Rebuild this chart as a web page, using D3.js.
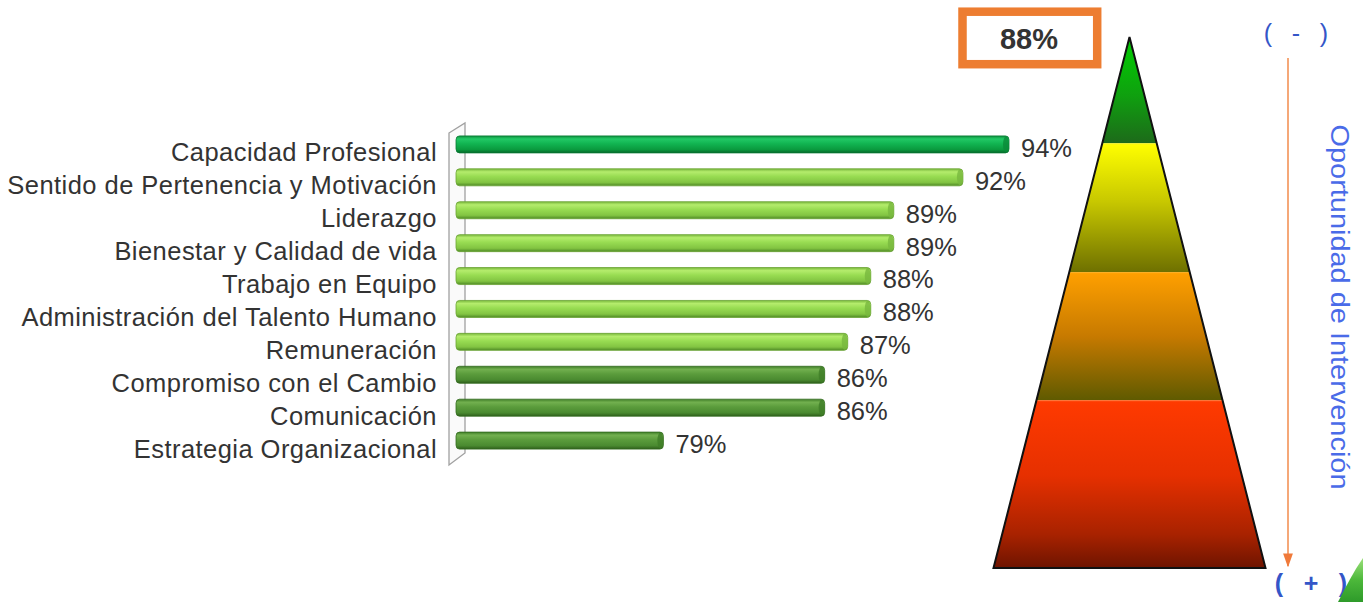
<!DOCTYPE html>
<html>
<head>
<meta charset="utf-8">
<script src="https://cdn.jsdelivr.net/npm/d3@7"></script>
<style>
  html, body { margin: 0; padding: 0; background: #ffffff; }
  svg { display: block; }
  text { font-family: "Liberation Sans", Arial, Helvetica, sans-serif; }
</style>
</head>
<body>
<svg id="chart" width="1363" height="602"></svg>
<script>
// ---- data ----
const categories = [
  "Capacidad Profesional",
  "Sentido de Pertenencia y Motivación",
  "Liderazgo",
  "Bienestar y Calidad de vida",
  "Trabajo en Equipo",
  "Administración del Talento Humano",
  "Remuneración",
  "Compromiso con el Cambio",
  "Comunicación",
  "Estrategia Organizacional"
];
const values = [94, 92, 89, 89, 88, 88, 87, 86, 86, 79];
const overall = 88;
const axisMin = 70;
const pyramidLevels = ["verde", "amarillo", "naranja", "rojo"];
const pyramidBreaks = [0, 0.2, 0.443, 0.684, 1];
const scaleTopSymbol = "-";
const scaleBottomSymbol = "+";
const scaleTitle = "Oportunidad de Intervención";

// ---- setup ----
const svg = d3.select("#chart");
const defs = svg.append("defs");

function vGrad(id, stops) {
  const g = defs.append("linearGradient").attr("id", id)
    .attr("x1", 0).attr("y1", 0).attr("x2", 0).attr("y2", 1);
  stops.forEach(s => g.append("stop").attr("offset", s[0]).attr("stop-color", s[1]));
}
vGrad("bar-top", [[0, "#0d8f3c"], [0.18, "#22c865"], [0.45, "#12b552"], [0.8, "#0a9a3e"], [1, "#06692a"]]);
vGrad("bar-mid", [[0, "#79b83c"], [0.18, "#b4ec6c"], [0.45, "#98dc52"], [0.8, "#82c442"], [1, "#4f8a26"]]);
vGrad("bar-low", [[0, "#3f7d27"], [0.18, "#72b04f"], [0.45, "#5b9c3c"], [0.8, "#4a8a30"], [1, "#2f5f1b"]]);

const tier = d3.scaleThreshold().domain([86.5, 93]).range(["low", "mid", "top"]);

const x = d3.scaleLinear().domain([axisMin, 94]).range([456, 1009]);
const y = d3.scaleBand().domain(categories).range([120, 465]).padding(0.483);

// ---- 3D axis wall ----
const wallTop = y.range()[0], wallBot = y.range()[1];
svg.append("path")
  .attr("d", `M449,${wallTop + 13} L465,${wallTop + 3} L465,${wallBot - 12} L449,${wallBot} Z`)
  .attr("fill", "#fafafa").attr("stroke", "#a0a0a0").attr("stroke-width", 1.3);

// ---- bars ----
const rows = categories.map((c, i) => ({ cat: c, val: values[i] }));
svg.append("g").selectAll("rect").data(rows).join("rect")
  .attr("x", x(axisMin))
  .attr("y", d => y(d.cat))
  .attr("width", d => x(d.val) - x(axisMin))
  .attr("height", y.bandwidth())
  .attr("rx", 3.5).attr("ry", 4)
  .attr("fill", d => `url(#bar-${tier(d.val)})`)
  .attr("stroke", d => tier(d.val) === "top" ? "#087a33" : (tier(d.val) === "mid" ? "#6aa334" : "#346c20"))
  .attr("stroke-width", 0.8);

// end caps
svg.append("g").selectAll("ellipse").data(rows).join("ellipse")
  .attr("cx", d => x(d.val) - 3)
  .attr("cy", d => y(d.cat) + y.bandwidth() / 2)
  .attr("rx", 3).attr("ry", y.bandwidth() / 2 - 0.5)
  .attr("fill", d => tier(d.val) === "top" ? "#0a8a38" : (tier(d.val) === "mid" ? "#78b83e" : "#3f7d27"))
  .attr("opacity", 0.8);

// category labels
svg.append("g").selectAll("text").data(rows).join("text")
  .attr("x", 437)
  .attr("y", d => y(d.cat) + y.bandwidth() / 2 + 8)
  .attr("dy", "0.35em")
  .attr("text-anchor", "end")
  .attr("font-size", 25.5)
  .attr("letter-spacing", 0.45)
  .attr("fill", "#333333")
  .text(d => d.cat);

// value labels
svg.append("g").selectAll("text").data(rows).join("text")
  .attr("x", d => x(d.val) + 12)
  .attr("y", d => y(d.cat) + y.bandwidth() / 2 + 3.5)
  .attr("dy", "0.35em")
  .attr("font-size", 25.5)
  .attr("fill", "#333333")
  .text(d => d.val + "%");

// ---- overall box ----
svg.append("rect")
  .attr("x", 962.5).attr("y", 11.7).attr("width", 134.7).attr("height", 52.5)
  .attr("fill", "#ffffff").attr("stroke", "#ed7d31").attr("stroke-width", 8.5);
svg.append("text")
  .attr("x", 1029).attr("y", 49)
  .attr("text-anchor", "middle")
  .attr("font-size", 29).attr("font-weight", "bold")
  .attr("fill", "#333333")
  .text(overall + "%");

// ---- pyramid ----
const apexX = 1129.5, halfBase = 136;
const py = d3.scaleLinear().domain([0, 1]).range([37, 568]);
const pyrColors = {
  verde: [[0, "#00d000"], [0.55, "#0fa00f"], [1, "#1d6a1a"]],
  amarillo: [[0, "#ffff00"], [0.45, "#c8c800"], [1, "#6e7000"]],
  naranja: [[0, "#ffa000"], [0.5, "#c77a00"], [1, "#5f5a00"]],
  rojo: [[0, "#ff3a00"], [0.45, "#e63000"], [0.8, "#a82200"], [1, "#6e1400"]]
};
pyramidLevels.forEach(l => vGrad("pyr-" + l, pyrColors[l]));

const pyrG = svg.append("g");
pyramidLevels.forEach((l, i) => {
  const t0 = pyramidBreaks[i], t1 = pyramidBreaks[i + 1];
  const y0 = py(t0), y1 = py(t1);
  const w0 = halfBase * t0, w1 = halfBase * t1;
  pyrG.append("path")
    .attr("d", `M${apexX - w0},${y0} L${apexX + w0},${y0} L${apexX + w1},${y1} L${apexX - w1},${y1} Z`)
    .attr("fill", `url(#pyr-${l})`);
  if (i > 0) {
    pyrG.append("line")
      .attr("x1", apexX - w0).attr("x2", apexX + w0).attr("y1", y0 + 0.5).attr("y2", y0 + 0.5)
      .attr("stroke", i === 3 ? "#ff8040" : (i === 2 ? "#ffb020" : "#e8e840")).attr("stroke-width", 1).attr("opacity", 0.8);
  }
});
pyrG.append("path")
  .attr("d", `M${apexX},${py(0)} L${apexX + halfBase},${py(1)} L${apexX - halfBase},${py(1)} Z`)
  .attr("fill", "none").attr("stroke", "#111111").attr("stroke-width", 2).attr("stroke-linejoin", "miter");

// ---- intervention scale arrow ----
defs.append("marker").attr("id", "arrow").attr("viewBox", "0 0 10 10")
  .attr("refX", 9).attr("refY", 5).attr("markerWidth", 7).attr("markerHeight", 9)
  .attr("orient", "auto")
  .append("path").attr("d", "M0,1.5 L10,5 L0,8.5 Z").attr("fill", "#f07a3a");
svg.append("line")
  .attr("x1", 1288).attr("x2", 1288).attr("y1", 58).attr("y2", 566)
  .attr("stroke", "#f5a878").attr("stroke-width", 2)
  .attr("marker-end", "url(#arrow)");

function parenLabel(cx, cy, sym, gap, size, weight) {
  const g = svg.append("g").attr("fill", "#3456c8").attr("font-size", size)
    .attr("font-weight", weight).attr("text-anchor", "middle");
  g.append("text").attr("x", cx - gap).attr("y", cy).attr("dy", "0.35em").text("(");
  g.append("text").attr("x", cx).attr("y", cy).attr("dy", "0.35em").text(sym);
  g.append("text").attr("x", cx + gap).attr("y", cy).attr("dy", "0.35em").text(")");
}
parenLabel(1296, 33, scaleTopSymbol, 28, 25, "normal");
parenLabel(1311, 583, scaleBottomSymbol, 32, 25, "bold");

svg.append("text")
  .attr("transform", "translate(1331,307) rotate(90)")
  .attr("text-anchor", "middle")
  .attr("font-size", 25.5)
  .attr("fill", "#4a6be8")
  .attr("textLength", 365).attr("lengthAdjust", "spacingAndGlyphs")
  .text(scaleTitle);

// ---- decorative corner swoosh ----
vGrad("swoosh", [[0, "#9be07a"], [0.5, "#4cb83a"], [1, "#2e9a2a"]]);
svg.append("path")
  .attr("d", "M1338,602 C1346,586 1354,571 1363,558 L1363,602 Z")
  .attr("fill", "url(#swoosh)");
</script>
</body>
</html>
